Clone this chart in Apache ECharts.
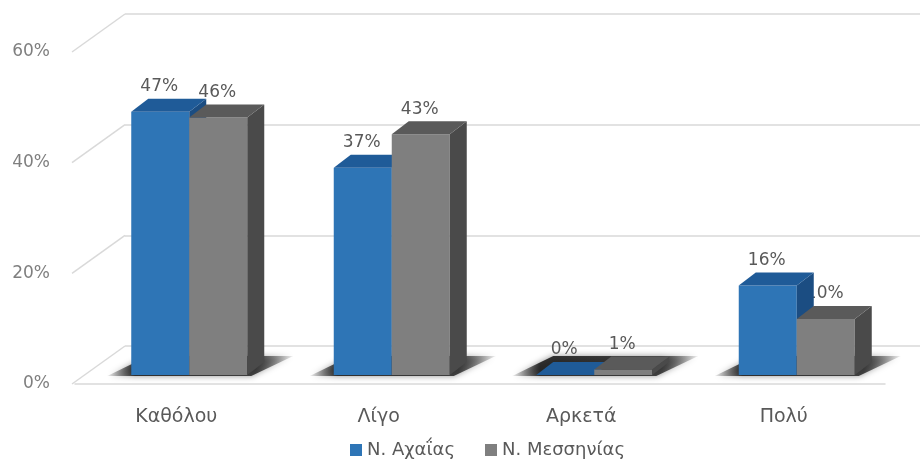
<!DOCTYPE html>
<html><head><meta charset="utf-8">
<script src="https://cdn.jsdelivr.net/npm/echarts@6/dist/echarts.min.js"></script>
<style>html,body{margin:0;padding:0;background:#fff}#c{width:920px;height:464px}</style>
</head><body><div id="c"></div>
<script>
const categories = ['Καθόλου', 'Λίγο', 'Αρκετά', 'Πολύ'];
const seriesNames = ['N. Αχαΐας', 'N. Μεσσηνίας'];
const achaia = [47, 37, 0, 16];
const messinia = [46, 43, 1, 10];
const yTicks = [0, 20, 40, 60];

const FONT = 'DejaVu Sans';
const BAR_W = 58, DX = 17, DY = -13;
const colors = [
  {front: '#2e75b6', top: '#1f5b98', side: '#1b4d82'},
  {front: '#7f7f7f', top: '#5a5a5a', side: '#4a4a4a'}
];

function barRender(s) {
  return function (params, api) {
    const i = api.value(0), v = api.value(1);
    const p0 = api.coord([i, 0]), p1 = api.coord([i, v]);
    const x0 = p0[0] - BAR_W + s * BAR_W, x1 = x0 + BAR_W;
    const yb = p0[1], yt = p1[1];
    const c = colors[s];
    return {type: 'group', children: [
      {type: 'rect', shape: {x: x0, y: yt, width: BAR_W, height: yb - yt}, style: {fill: c.front}},
      {type: 'polygon', shape: {points: [[x1, yt], [x1, yb], [x1 + DX, yb + DY], [x1 + DX, yt + DY]]}, style: {fill: c.side}},
      {type: 'polygon', shape: {points: [[x0, yt], [x1, yt], [x1 + DX, yt + DY], [x0 + DX, yt + DY]]}, style: {fill: c.top}}
    ]};
  };
}
function labelRender(s) {
  return function (params, api) {
    const i = api.value(0), v = api.value(1);
    const p0 = api.coord([i, 0]), p1 = api.coord([i, v]);
    const cx = p0[0] - BAR_W / 2 + s * BAR_W - 1;
    return {type: 'text', style: {x: cx, y: p1[1] - 25, text: v + '%', fill: '#595959',
      font: '17px "' + FONT + '"', align: 'center', verticalAlign: 'middle'}};
  };
}
function shadowRender(params, api) {
  const i = api.value(0);
  const p0 = api.coord([i, 0]);
  const x0 = p0[0] - BAR_W, x1 = p0[0] + BAR_W, yb = p0[1];
  return {type: 'polygon', shape: {points: [[x0 - 24, yb + 1], [x1 + 4, yb + 1], [x1 + 46, yb - 19], [x0 + DX, yb - 19]]},
    style: {fill: {type: 'linear', x: 0, y: 0, x2: 1, y2: 0, colorStops: [
      {offset: 0, color: 'rgba(0,0,0,0.05)'}, {offset: 0.15, color: 'rgba(20,20,20,0.85)'},
      {offset: 0.8, color: 'rgba(40,40,40,0.85)'}, {offset: 1, color: 'rgba(0,0,0,0.05)'}]},
      shadowBlur: 6, shadowColor: 'rgba(0,0,0,0.5)'}};
}
function diagRender(params, api) {
  const p = api.coord([0, api.value(1)]);
  const x = params.coordSys.x;
  return {type: 'line', shape: {x1: x - 3, y1: p[1], x2: x + 50, y2: p[1] - 38},
    style: {stroke: '#d9d9d9', lineWidth: 1.5}};
}

const catIdx = categories.map((c, i) => i);
const chart = echarts.init(document.getElementById('c'));
chart.setOption({
  animation: false,
  backgroundColor: '#fff',
  grid: [
    {left: 75, width: 810, top: 52, height: 332},
    {left: 125, width: 810, top: 14, height: 332},
    {left: 88, width: 810, top: 39, height: 336}
  ],
  xAxis: [
    {gridIndex: 0, type: 'category', data: categories, axisTick: {show: false},
      axisLine: {lineStyle: {color: '#d9d9d9', width: 1.5}},
      axisLabel: {color: '#595959', fontSize: 19, fontFamily: FONT, margin: 24}},
    {gridIndex: 1, type: 'category', data: categories, show: false},
    {gridIndex: 2, type: 'category', data: categories, show: false}
  ],
  yAxis: [
    {gridIndex: 0, type: 'value', min: 0, max: 60, interval: 20, splitLine: {show: false},
      axisLine: {show: false}, axisTick: {show: false},
      axisLabel: {formatter: '{value}%', color: '#7f7f7f', fontSize: 17, fontFamily: FONT, margin: 25}},
    {gridIndex: 1, type: 'value', min: 0, max: 60, interval: 20, axisLabel: {show: false},
      axisLine: {show: false}, axisTick: {show: false},
      splitLine: {lineStyle: {color: '#d9d9d9', width: 1.5}}},
    {gridIndex: 2, type: 'value', min: 0, max: 60, interval: 20, show: false, splitLine: {show: false}}
  ],
  legend: {data: seriesNames, left: 348, top: 439, padding: 2, itemWidth: 12, itemHeight: 12, itemGap: 30, icon: 'rect',
    textStyle: {color: '#595959', fontSize: 18, fontFamily: FONT}},
  series: [
    {type: 'custom', xAxisIndex: 0, yAxisIndex: 0, z: 1, silent: true, renderItem: diagRender,
      data: yTicks.map(v => [0, v])},
    {type: 'custom', xAxisIndex: 2, yAxisIndex: 2, z: 2, silent: true, renderItem: shadowRender,
      data: catIdx.map(i => [i, 0])},
    {type: 'custom', xAxisIndex: 2, yAxisIndex: 2, z: 3, silent: true, renderItem: labelRender(1),
      data: messinia.map((v, i) => [i, v])},
    {name: seriesNames[0], type: 'custom', xAxisIndex: 2, yAxisIndex: 2, z: 4, renderItem: barRender(0),
      itemStyle: {color: colors[0].front}, data: achaia.map((v, i) => [i, v])},
    {name: seriesNames[1], type: 'custom', xAxisIndex: 2, yAxisIndex: 2, z: 5, renderItem: barRender(1),
      itemStyle: {color: colors[1].front}, data: messinia.map((v, i) => [i, v])},
    {type: 'custom', xAxisIndex: 2, yAxisIndex: 2, z: 6, silent: true, renderItem: labelRender(0),
      data: achaia.map((v, i) => [i, v])}
  ]
});
</script></body></html>
